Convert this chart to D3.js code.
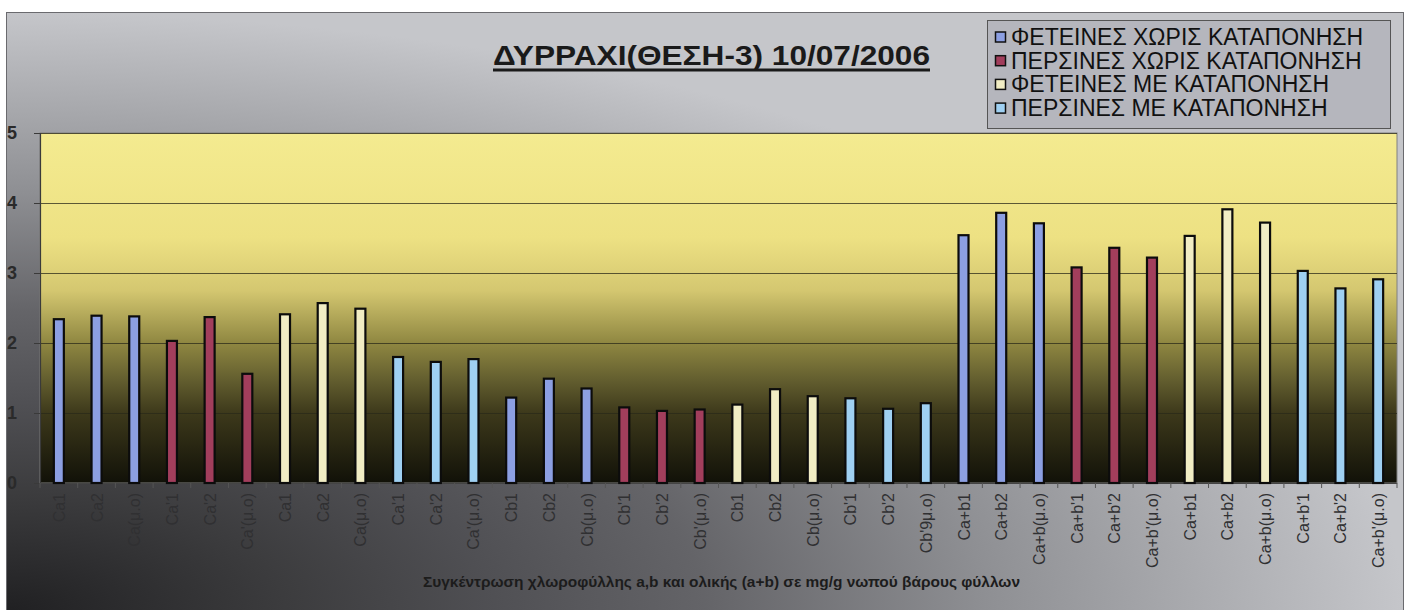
<!DOCTYPE html>
<html>
<head>
<meta charset="utf-8">
<script src="https://cdn.jsdelivr.net/npm/d3@7"></script>
<style>
  html, body { margin: 0; padding: 0; background: #ffffff; }
  svg { display: block; }
</style>
</head>
<body>
<div id="chart"></div>
<script>
// Chlorophyll concentrations (mg/g fresh leaf weight), Δυρράχι position 3
const categories = [
  "Ca1", "Ca2", "Ca(μ.ο)", "Ca'1", "Ca'2", "Ca'(μ.ο)",
  "Ca1", "Ca2", "Ca(μ.ο)", "Ca'1", "Ca'2", "Ca'(μ.ο)",
  "Cb1", "Cb2", "Cb(μ.ο)", "Cb'1", "Cb'2", "Cb'(μ.ο)",
  "Cb1", "Cb2", "Cb(μ.ο)", "Cb'1", "Cb'2", "Cb'9μ.ο)",
  "Ca+b1", "Ca+b2", "Ca+b(μ.ο)", "Ca+b'1", "Ca+b'2", "Ca+b'(μ.ο)",
  "Ca+b1", "Ca+b2", "Ca+b(μ.ο)", "Ca+b'1", "Ca+b'2", "Ca+b'(μ.ο)"
];
const values = [
  2.34, 2.39, 2.38, 2.03, 2.37, 1.56,
  2.41, 2.57, 2.49, 1.80, 1.73, 1.77,
  1.22, 1.49, 1.35, 1.08, 1.03, 1.05,
  1.12, 1.34, 1.24, 1.21, 1.06, 1.14,
  3.54, 3.86, 3.71, 3.08, 3.36, 3.22,
  3.53, 3.91, 3.72, 3.03, 2.78, 2.91
];
// series index for every bar (which legend entry it belongs to)
const seriesOf = [
  0, 0, 0, 1, 1, 1, 2, 2, 2, 3, 3, 3,
  0, 0, 0, 1, 1, 1, 2, 2, 2, 3, 3, 3,
  0, 0, 0, 1, 1, 1, 2, 2, 2, 3, 3, 3
];
const seriesNames = [
  "ΦΕΤΕΙΝΕΣ ΧΩΡΙΣ ΚΑΤΑΠΟΝΗΣΗ",
  "ΠΕΡΣΙΝΕΣ ΧΩΡΙΣ ΚΑΤΑΠΟΝΗΣΗ",
  "ΦΕΤΕΙΝΕΣ ΜΕ ΚΑΤΑΠΟΝΗΣΗ",
  "ΠΕΡΣΙΝΕΣ ΜΕ ΚΑΤΑΠΟΝΗΣΗ"
];
const seriesColors = ["#8c9fe2", "#a23e5c", "#f1edc4", "#9fd0f2"];
const yTicks = [0, 1, 2, 3, 4, 5];
const titleText = "ΔΥΡΡΑΧΙ(ΘΕΣΗ-3) 10/07/2006";
const xTitleText = "Συγκέντρωση χλωροφύλλης a,b και ολικής (a+b) σε mg/g νωπού βάρους φύλλων";

const W = 1405, H = 610;
const plot = { left: 40, right: 1397, top: 133, bottom: 483 };
const FONT = "Liberation Sans, Arial, sans-serif";

const svg = d3.select("#chart").append("svg")
  .attr("width", W).attr("height", H);

const defs = svg.append("defs");

// chart area: dark in the lower-left corner, pale grey towards top and right
const bg = defs.append("radialGradient").attr("id", "bgGrad")
  .attr("cx", 0).attr("cy", 1).attr("r", 1).attr("fx", 0).attr("fy", 1);
[[0, "#202022"], [0.2, "#3c3c3e"], [0.35, "#505054"], [0.5, "#646468"],
 [0.7, "#8e8f93"], [0.88, "#afb0b4"], [1, "#c5c6ca"]]
  .forEach(([o, c]) => bg.append("stop").attr("offset", o).attr("stop-color", c));

// plot area: yellow at the top fading to black at the base
const pg = defs.append("linearGradient").attr("id", "plotGrad")
  .attr("x1", 0).attr("y1", 0).attr("x2", 0).attr("y2", 1);
[[0, "#f4eb90"], [0.3, "#ede183"], [0.45, "#d4c770"], [0.6, "#8f8741"],
 [0.7, "#656030"], [0.8, "#3d391b"], [1, "#111108"]]
  .forEach(([o, c]) => pg.append("stop").attr("offset", o).attr("stop-color", c));

svg.append("rect")
  .attr("x", 6.5).attr("y", 12.5).attr("width", 1397).attr("height", 600)
  .attr("fill", "url(#bgGrad)")
  .attr("stroke", "#6a6a6e").attr("stroke-width", 1);

const x = d3.scaleBand()
  .domain(d3.range(categories.length))
  .range([plot.left, plot.right])
  .paddingInner(0).paddingOuter(0);

const y = d3.scaleLinear().domain([0, 5]).range([plot.bottom, plot.top]);

svg.append("rect")
  .attr("x", plot.left).attr("y", plot.top)
  .attr("width", plot.right - plot.left).attr("height", plot.bottom - plot.top)
  .attr("fill", "url(#plotGrad)")
  .attr("stroke", "#808080").attr("stroke-width", 1);

// horizontal gridlines
svg.append("g").selectAll("line")
  .data(yTicks.filter(d => d > 0))
  .join("line")
  .attr("x1", plot.left).attr("x2", plot.right)
  .attr("y1", d => y(d) + 0.5).attr("y2", d => y(d) + 0.5)
  .attr("stroke", "#2a2a1a").attr("stroke-opacity", 0.75).attr("stroke-width", 1);

// y axis
const yAxis = svg.append("g")
  .attr("transform", `translate(${plot.left},0)`)
  .call(d3.axisLeft(y).tickValues(yTicks).tickFormat(d3.format("d")).tickSize(6).tickPadding(18));
yAxis.select(".domain").attr("stroke", "#3a3a3a").attr("stroke-width", 1.2);
yAxis.selectAll(".tick line").attr("stroke", "#3a3a3a");
yAxis.selectAll(".tick text")
  .attr("fill", "#2a2a2a")
  .style("font-family", FONT)
  .style("font-weight", "bold")
  .style("font-size", "18px")
  .attr("text-anchor", "start")
  .attr("x", -33);

// x axis baseline and category separators
svg.append("line")
  .attr("x1", plot.left).attr("x2", plot.right)
  .attr("y1", plot.bottom + 0.5).attr("y2", plot.bottom + 0.5)
  .attr("stroke", "#444").attr("stroke-width", 1.2);
svg.append("g").selectAll("line")
  .data(d3.range(categories.length + 1))
  .join("line")
  .attr("x1", d => plot.left + d * x.step()).attr("x2", d => plot.left + d * x.step())
  .attr("y1", plot.bottom).attr("y2", plot.bottom + 5)
  .attr("stroke", "#555").attr("stroke-width", 1);

// bars
const barW = 10;
svg.append("g").selectAll("rect")
  .data(values)
  .join("rect")
  .attr("x", (d, i) => x(i) + x.bandwidth() / 2 - barW / 2)
  .attr("y", d => y(d))
  .attr("width", barW)
  .attr("height", d => y(0) - y(d))
  .attr("fill", (d, i) => seriesColors[seriesOf[i]])
  .attr("stroke", "#0c0c0c").attr("stroke-width", 2.2);

// rotated category labels
svg.append("g").selectAll("text")
  .data(categories)
  .join("text")
  .attr("transform", (d, i) => `translate(${x(i) + x.bandwidth() / 2 + 6},${plot.bottom + 10}) rotate(-90)`)
  .attr("text-anchor", "end")
  .attr("fill", "#303032")
  .style("font-family", FONT)
  .style("font-size", "16px")
  .text(d => d);

// x axis title, stretched to its printed width
svg.append("text")
  .attr("x", 423).attr("y", 587)
  .attr("fill", "#1c1c1c")
  .style("font-family", FONT)
  .style("font-weight", "bold")
  .style("font-size", "14px")
  .attr("textLength", 597).attr("lengthAdjust", "spacingAndGlyphs")
  .text(xTitleText);

// chart title, underlined
svg.append("text")
  .attr("x", 493).attr("y", 65)
  .attr("fill", "#1a1a1a")
  .style("font-family", FONT)
  .style("font-weight", "bold")
  .style("font-size", "28px")
  .attr("textLength", 437).attr("lengthAdjust", "spacingAndGlyphs")
  .text(titleText);
svg.append("rect")
  .attr("x", 493).attr("y", 68.5).attr("width", 437).attr("height", 3)
  .attr("fill", "#1a1a1a");

// legend
const legend = svg.append("g");
legend.append("rect")
  .attr("x", 987.5).attr("y", 20.5).attr("width", 403).attr("height", 108)
  .attr("fill", "#b5b6bd").attr("stroke", "#555").attr("stroke-width", 1);
const items = legend.selectAll("g.item")
  .data(seriesNames)
  .join("g").attr("class", "item")
  .attr("transform", (d, i) => `translate(1000,${37 + i * 23.7})`);
items.append("rect")
  .attr("x", -4.5).attr("y", -5).attr("width", 10).attr("height", 10)
  .attr("fill", (d, i) => seriesColors[i])
  .attr("stroke", "#111").attr("stroke-width", 1.5);
items.append("text")
  .attr("x", 11).attr("y", 8)
  .attr("fill", "#111")
  .style("font-family", FONT)
  .style("font-size", "23px")
  .text(d => d);
</script>
</body>
</html>
